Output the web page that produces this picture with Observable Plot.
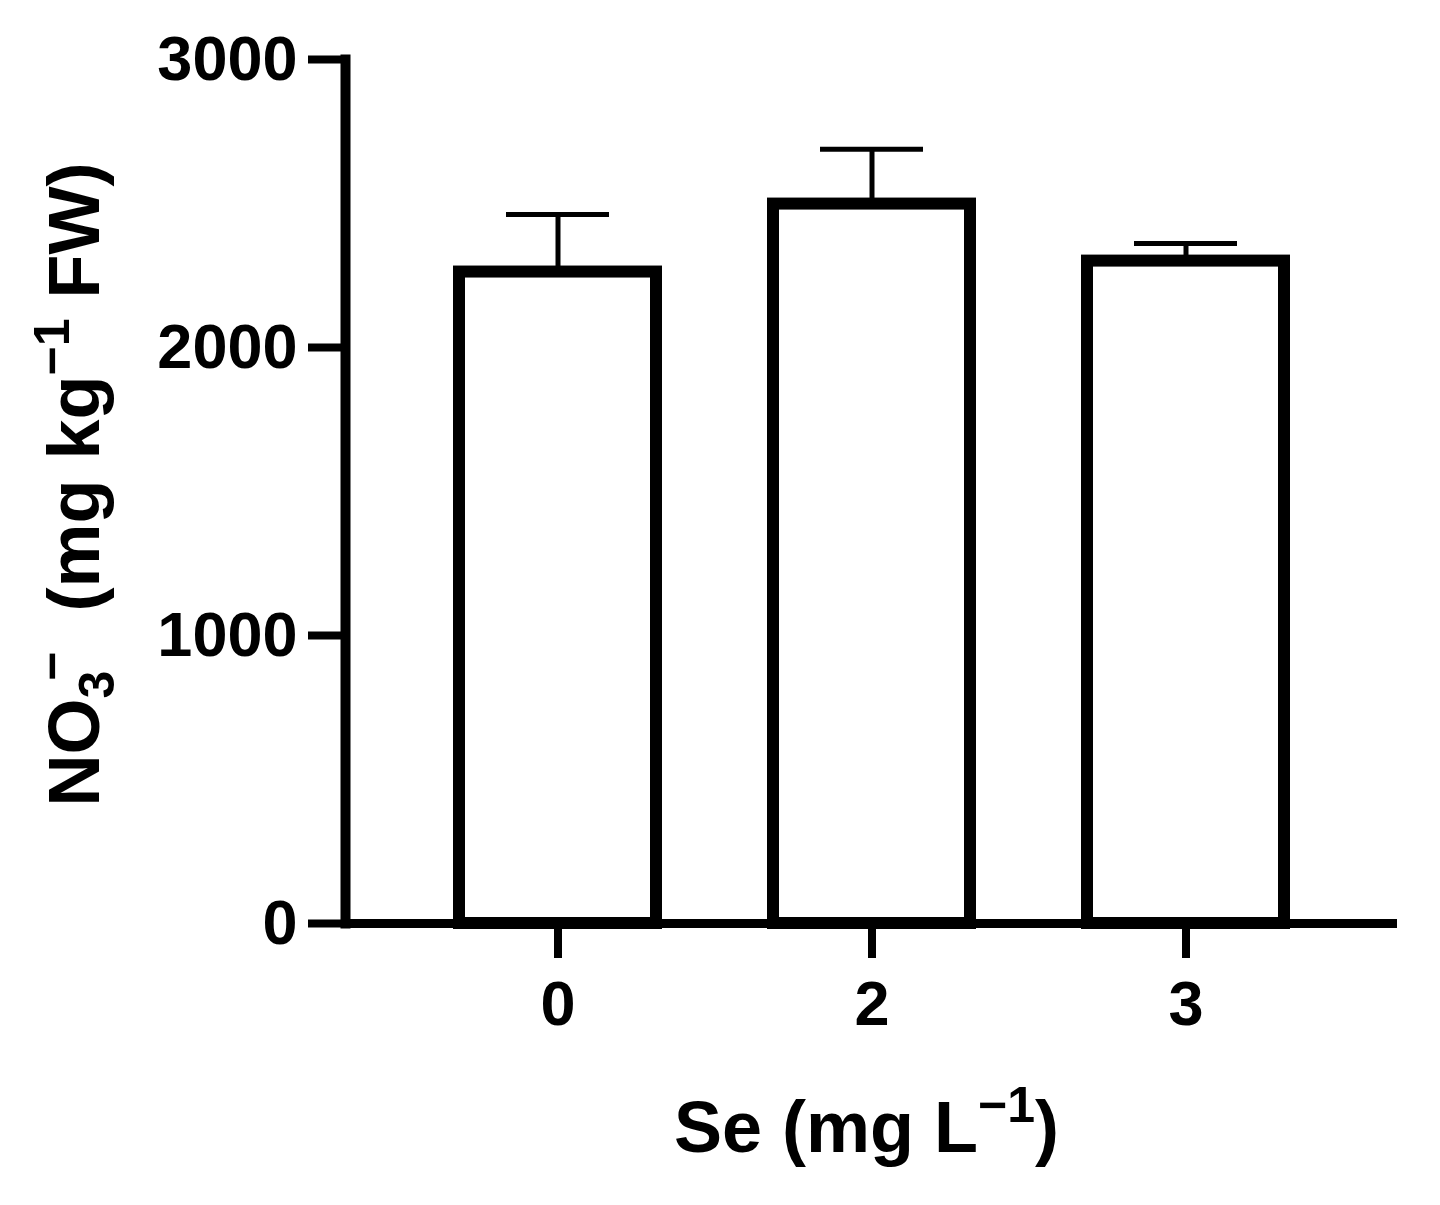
<!DOCTYPE html>
<html>
<head>
<meta charset="utf-8">
<script src="https://cdn.jsdelivr.net/npm/d3@7"></script>
<script src="https://cdn.jsdelivr.net/npm/@observablehq/plot@0.6"></script>
<style>
  html, body { margin: 0; padding: 0; background: #fff; }
  #chart svg { display: block; }
</style>
</head>
<body>
<div id="chart"></div>
<script>
// Data
const categories = ["0", "2", "3"];
const means = [2262, 2498, 2300];
const errors = [200, 190, 61];
const yTicks = [0, 1000, 2000, 3000];
const xTitle = "Se (mg L⁻¹)";
const yTitle = "NO₃⁻ (mg kg⁻¹ FW)";

const data = categories.map((c, i) => ({ se: c, mean: means[i], top: means[i] + errors[i] }));

const chart = Plot.plot({
  width: 1440,
  height: 1205,
  marginLeft: 345,
  marginTop: 59,
  marginBottom: 282,
  marginRight: 43,
  style: { fontFamily: "'Liberation Sans', Arial, sans-serif", fontWeight: "bold", color: "black", background: "white", fontSize: "63px" },
  x: { domain: categories, paddingInner: 0.373, paddingOuter: 0.3615 },
  y: { domain: [0, 3000] },
  marks: [
    Plot.barY(data, { x: "se", y: "mean", fill: "white", stroke: "black", strokeWidth: 12 }),
    Plot.ruleX(data, { x: "se", y1: "mean", y2: "top", stroke: "black", strokeWidth: 5 }),
    Plot.tickY(data, { x: "se", y: "top", stroke: "black", strokeWidth: 5, insetLeft: 47, insetRight: 47 }),
    Plot.ruleY([0], { stroke: "black", strokeWidth: 9 }),
    Plot.frame({ anchor: "left", stroke: "black", strokeWidth: 10, strokeLinecap: "square" }),
    Plot.axisY({ ticks: yTicks, tickSize: 37, tickPadding: 11, strokeWidth: 8, fontSize: 63, tickFormat: d => String(d),
      label: yTitle, labelAnchor: "center", labelArrow: "none", labelOffset: 298 }),
    Plot.axisX({ tickSize: 35, tickPadding: 22, strokeWidth: 8, fontSize: 63,
      label: xTitle, labelAnchor: "center", labelArrow: "none", labelOffset: 228 })
  ]
});

document.getElementById("chart").appendChild(chart);

// Rich formatting for axis titles (sub/superscripts)
function rich(sel, parts, size) {
  const t = chart.querySelector(sel);
  if (!t) return;
  t.textContent = "";
  t.setAttribute("font-size", size);
  t.style.fontSize = size + "px";
  for (const p of parts) {
    const ts = document.createElementNS("http://www.w3.org/2000/svg", "tspan");
    ts.textContent = p.t;
    if (p.shift) ts.setAttribute("baseline-shift", p.shift);
    if (p.size) ts.setAttribute("font-size", p.size);
    if (p.dx) ts.setAttribute("dx", p.dx);
    t.appendChild(ts);
  }
}
rich('g[aria-label="y-axis label"] text', [
  { t: "NO", dx: 7 },
  { t: "3", shift: "-15", size: 50 },
  { t: "−", shift: "30", size: 50, dx: -10 },
  { t: "  (mg kg" },
  { t: "−1", shift: "30", size: 50 },
  { t: " FW)" }
], 72);
rich('g[aria-label="x-axis label"] text', [
  { t: "Se (mg L", dx: -5 },
  { t: "−1", shift: "30", size: 50 },
  { t: ")" }
], 72);
</script>
</body>
</html>
